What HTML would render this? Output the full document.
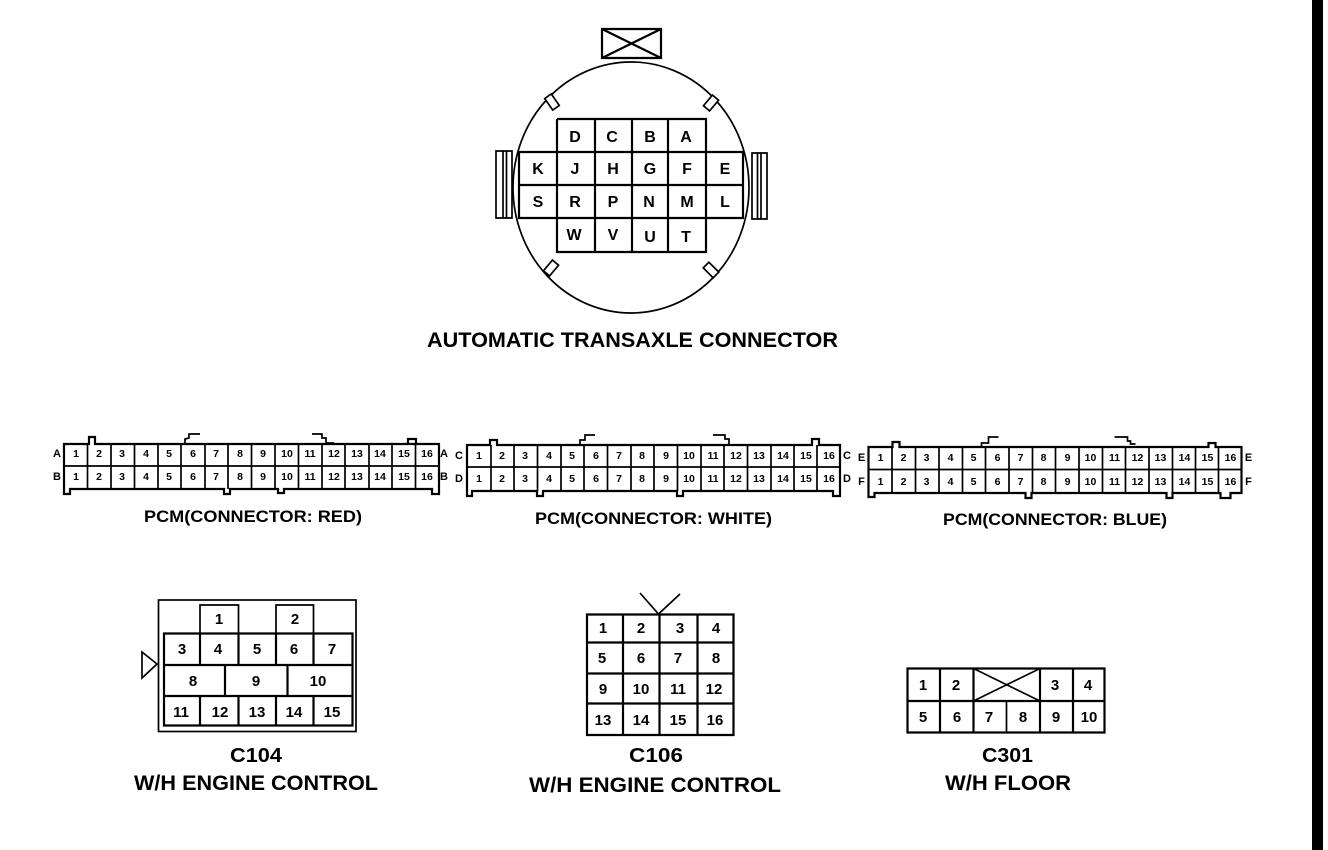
<!DOCTYPE html>
<html><head><meta charset="utf-8"><title>Connector diagram</title>
<style>
html,body{margin:0;padding:0;background:#fff}
svg{display:block}
text{font-family:"Liberation Sans",sans-serif;font-weight:bold;fill:#000;text-anchor:middle}
.l{font-size:16px}.n{font-size:10.5px}.s{font-size:11px}.c{font-size:17px;text-anchor:start}.t{font-size:20px}.m{font-size:15px}.p{font-size:21px;text-anchor:start}
.g{fill:none;stroke:#000;stroke-width:1.7}.h{fill:none;stroke:#000;stroke-width:2.2}
</style></head><body>
<svg width="1328" height="850" viewBox="0 0 1328 850" xmlns="http://www.w3.org/2000/svg">
<rect width="1328" height="850" fill="#fff"/>
<rect x="1312" y="0" width="11" height="850" fill="#000"/>

<!-- Automatic transaxle connector -->
<ellipse class="g" cx="631" cy="187.500" rx="118" ry="125.500"/>
<path class="h" d="M602 29H661V58H602ZM602 29L661 58M661 29L602 58"/>
<rect x="-4" y="-7" width="8" height="14" transform="translate(552 102) rotate(-35)" fill="#fff" stroke="#000" stroke-width="1.7"/>
<rect x="-4" y="-7" width="8" height="14" transform="translate(711 103) rotate(40)" fill="#fff" stroke="#000" stroke-width="1.7"/>
<rect x="-4" y="-7" width="8" height="14" transform="translate(551 268) rotate(40)" fill="#fff" stroke="#000" stroke-width="1.7"/>
<rect x="-4" y="-7" width="8" height="14" transform="translate(711 270) rotate(-45)" fill="#fff" stroke="#000" stroke-width="1.7"/>
<path class="g" d="M496 151H512V218H496ZM503 151V218M506.500 151V218"/>
<path class="g" d="M752 153H767V219H752ZM757.500 153V219M761 153V219"/>
<path class="h" d="M557 119H706V152M557 119V252H706V218M595 119V252M632 119V252M668 119V252M706 152V218"/>
<path class="h" d="M519 152H743V218H519ZM519 185H743"/>
<text class="l" x="575" y="142">D</text><text class="l" x="612" y="142">C</text><text class="l" x="650" y="142">B</text><text class="l" x="686" y="142">A</text>
<text class="l" x="538" y="174">K</text><text class="l" x="575" y="174">J</text><text class="l" x="613" y="174">H</text><text class="l" x="650" y="174">G</text><text class="l" x="687" y="174">F</text><text class="l" x="725" y="174">E</text>
<text class="l" x="538" y="207">S</text><text class="l" x="575" y="207">R</text><text class="l" x="613" y="207">P</text><text class="l" x="649" y="207">N</text><text class="l" x="687" y="207">M</text><text class="l" x="725" y="207">L</text>
<text class="l" x="574" y="240">W</text><text class="l" x="613" y="240">V</text><text class="l" x="650" y="242">U</text><text class="l" x="686" y="242">T</text>
<text class="p" x="427" y="347" textLength="411" lengthAdjust="spacingAndGlyphs">AUTOMATIC TRANSAXLE CONNECTOR</text>

<!-- PCM RED -->
<g transform="translate(64 444)">
<path class="h" d="M0 0H25V-7H31V0H375V50H368V45H220V49H214V45H166V50H160V45H6V50H0ZM344 0V-5H352V0"/>
<path class="g" d="M121 0V-5L125 -6V-10H136M248 -10H258V-6H262V-1H270"/>
<path class="g" d="M0 22H375M23.500 0V45M47 0V45M70.500 0V45M94 0V45M117 0V45M141 0V45M164 0V45M187.500 0V45M211 0V45M234.500 0V45M258 0V45M281 0V45M305 0V45M328 0V45M351.500 0V45"/>
<g class="n"><text x="12" y="13">1</text><text x="35" y="13">2</text><text x="58" y="13">3</text><text x="82" y="13">4</text><text x="105" y="13">5</text><text x="129" y="13">6</text><text x="152" y="13">7</text><text x="176" y="13">8</text><text x="199" y="13">9</text><text x="223" y="13">10</text><text x="246" y="13">11</text><text x="270" y="13">12</text><text x="293" y="13">13</text><text x="316" y="13">14</text><text x="340" y="13">15</text><text x="363" y="13">16</text>
<text x="12" y="36">1</text><text x="35" y="36">2</text><text x="58" y="36">3</text><text x="82" y="36">4</text><text x="105" y="36">5</text><text x="129" y="36">6</text><text x="152" y="36">7</text><text x="176" y="36">8</text><text x="199" y="36">9</text><text x="223" y="36">10</text><text x="246" y="36">11</text><text x="270" y="36">12</text><text x="293" y="36">13</text><text x="316" y="36">14</text><text x="340" y="36">15</text><text x="363" y="36">16</text></g>
<g class="s"><text x="-7" y="13">A</text><text x="-7" y="36">B</text><text x="380" y="13">A</text><text x="380" y="36">B</text></g>
</g>
<text class="c" x="144" y="522" textLength="218" lengthAdjust="spacingAndGlyphs">PCM(CONNECTOR: RED)</text>

<!-- PCM WHITE -->
<g transform="translate(467 445)">
<path class="h" d="M0 0H23V-5H30V0H345V-6H352V0H373V46V51H366V46H216V51H210V46H76V51H70V46H5V51H0Z"/>
<path class="g" d="M113 0V-5H118V-10H128M246 -10H258V-6H262V0"/>
<path class="g" d="M0 22H373M24 0V46M47 0V46M70.500 0V46M94 0V46M117 0V46M140.500 0V46M164 0V46M187 0V46M210.500 0V46M234 0V46M257 0V46M280.500 0V46M304 0V46M327 0V46M350 0V46"/>
<g class="n"><text x="12" y="14">1</text><text x="35" y="14">2</text><text x="58" y="14">3</text><text x="82" y="14">4</text><text x="105" y="14">5</text><text x="129" y="14">6</text><text x="152" y="14">7</text><text x="175" y="14">8</text><text x="199" y="14">9</text><text x="222" y="14">10</text><text x="246" y="14">11</text><text x="269" y="14">12</text><text x="292" y="14">13</text><text x="316" y="14">14</text><text x="339" y="14">15</text><text x="362" y="14">16</text>
<text x="12" y="37">1</text><text x="35" y="37">2</text><text x="58" y="37">3</text><text x="82" y="37">4</text><text x="105" y="37">5</text><text x="129" y="37">6</text><text x="152" y="37">7</text><text x="175" y="37">8</text><text x="199" y="37">9</text><text x="222" y="37">10</text><text x="246" y="37">11</text><text x="269" y="37">12</text><text x="292" y="37">13</text><text x="316" y="37">14</text><text x="339" y="37">15</text><text x="362" y="37">16</text></g>
<g class="s"><text x="-8" y="14">C</text><text x="-8" y="37">D</text><text x="380" y="14">C</text><text x="380" y="37">D</text></g>
</g>
<text class="c" x="535" y="524" textLength="237" lengthAdjust="spacingAndGlyphs">PCM(CONNECTOR: WHITE)</text>

<!-- PCM BLUE -->
<g transform="translate(868.500 447)">
<path class="h" d="M0 0H24V-5H31V0H340V-4H347V0H373V46H362V51H352V46H304V51H298V46H163V51H157V46H6V50H0Z"/>
<path class="g" d="M113 0V-4H120V-10H130M246 -10H259V-6H262V-3H267"/>
<path class="g" d="M0 22.500H373M23.500 0V46M47 0V46M70.500 0V46M94 0V46M117 0V46M140.500 0V46M164 0V46M187 0V46M210.500 0V46M234 0V46M257 0V46M280.500 0V46M304 0V46M327 0V46M350 0V46"/>
<g class="n"><text x="12" y="14">1</text><text x="35" y="14">2</text><text x="58" y="14">3</text><text x="82" y="14">4</text><text x="105" y="14">5</text><text x="129" y="14">6</text><text x="152" y="14">7</text><text x="175" y="14">8</text><text x="199" y="14">9</text><text x="222" y="14">10</text><text x="246" y="14">11</text><text x="269" y="14">12</text><text x="292" y="14">13</text><text x="316" y="14">14</text><text x="339" y="14">15</text><text x="362" y="14">16</text>
<text x="12" y="38">1</text><text x="35" y="38">2</text><text x="58" y="38">3</text><text x="82" y="38">4</text><text x="105" y="38">5</text><text x="129" y="38">6</text><text x="152" y="38">7</text><text x="175" y="38">8</text><text x="199" y="38">9</text><text x="222" y="38">10</text><text x="246" y="38">11</text><text x="269" y="38">12</text><text x="292" y="38">13</text><text x="316" y="38">14</text><text x="339" y="38">15</text><text x="362" y="38">16</text></g>
<g class="s"><text x="-7" y="14">E</text><text x="-7" y="38">F</text><text x="380" y="14">E</text><text x="380" y="38">F</text></g>
</g>
<text class="c" x="943" y="525" textLength="224" lengthAdjust="spacingAndGlyphs">PCM(CONNECTOR: BLUE)</text>

<!-- C104 -->
<rect class="g" x="158.500" y="600" width="197.500" height="131.500"/>
<path class="g" d="M157 664L142 652V678ZM200 633V605H238.500V633M276 633V605H313.500V633"/>
<path class="h" d="M164 633.500H352.500V725.500H164ZM164 665H352.500M164 696H352.500M200 633.500V665M238.500 633.500V665M276 633.500V665M313.500 633.500V665M225 665V696M287.500 665V696M200 696V725.500M238.500 696V725.500M276 696V725.500M313.500 696V725.500"/>
<g class="m"><text x="219" y="624">1</text><text x="295" y="624">2</text>
<text x="182" y="654">3</text><text x="218" y="654">4</text><text x="257" y="654">5</text><text x="294" y="654">6</text><text x="332" y="654">7</text>
<text x="193" y="686">8</text><text x="256" y="686">9</text><text x="318" y="686">10</text>
<text x="181" y="717">11</text><text x="220" y="717">12</text><text x="257" y="717">13</text><text x="294" y="717">14</text><text x="332" y="717">15</text></g>
<text class="t" x="230" y="762" style="text-anchor:start" textLength="52" lengthAdjust="spacingAndGlyphs">C104</text>
<text class="p" x="134" y="790" textLength="244" lengthAdjust="spacingAndGlyphs">W/H ENGINE CONTROL</text>

<!-- C106 -->
<path class="g" d="M640 593L658.500 614L680 594"/>
<path class="h" d="M587 614.500H733.500V735H587ZM587 642.500H733.500M587 673.500H733.500M587 703.500H733.500M623 614.500V735M659.500 614.500V735M697.500 614.500V735"/>
<g class="m"><text x="603" y="633">1</text><text x="641" y="633">2</text><text x="680" y="633">3</text><text x="716" y="633">4</text>
<text x="602" y="663">5</text><text x="641" y="663">6</text><text x="678" y="663">7</text><text x="716" y="663">8</text>
<text x="603" y="694">9</text><text x="641" y="694">10</text><text x="678" y="694">11</text><text x="714" y="694">12</text>
<text x="603" y="725">13</text><text x="641" y="725">14</text><text x="678" y="725">15</text><text x="715" y="725">16</text></g>
<text class="t" x="629" y="762" style="text-anchor:start" textLength="54" lengthAdjust="spacingAndGlyphs">C106</text>
<text class="p" x="529" y="792" textLength="252" lengthAdjust="spacingAndGlyphs">W/H  ENGINE  CONTROL</text>

<!-- C301 -->
<path class="h" d="M907.500 668.500H1104.500V732.500H907.500ZM907.500 701H1104.500M940 668.500V732.500M973.500 668.500V732.500M1040 668.500V732.500M1073 668.500V732.500"/>
<path class="g" d="M1006.500 701V732.500M973.500 668.500L1040 701M1040 668.500L973.500 701"/>
<g class="m"><text x="923" y="690">1</text><text x="956" y="690">2</text><text x="1055" y="690">3</text><text x="1088" y="690">4</text>
<text x="923" y="722">5</text><text x="957" y="722">6</text><text x="989" y="722">7</text><text x="1023" y="722">8</text><text x="1056" y="722">9</text><text x="1089" y="722">10</text></g>
<text class="t" x="982" y="762" style="text-anchor:start" textLength="51" lengthAdjust="spacingAndGlyphs">C301</text>
<text class="p" x="945" y="790" textLength="126" lengthAdjust="spacingAndGlyphs">W/H FLOOR</text>
</svg>
</body></html>
